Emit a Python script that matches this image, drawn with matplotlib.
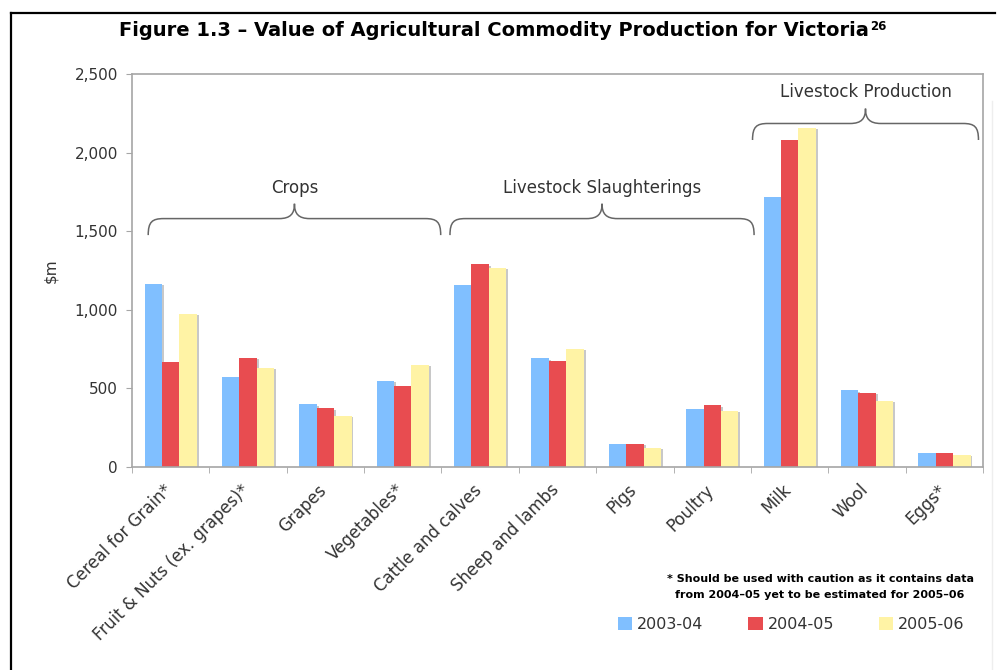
import numpy as np
import matplotlib.pyplot as plt
from matplotlib.path import Path
from matplotlib.patches import PathPatch
from matplotlib.lines import Line2D

plt.rcParams['font.family'] = ['DejaVu Sans']

categories = ['Cereal for Grain*', 'Fruit & Nuts (ex. grapes)*', 'Grapes',
              'Vegetables*', 'Cattle and calves', 'Sheep and lambs', 'Pigs',
              'Poultry', 'Milk', 'Wool', 'Eggs*']
years = ['2003-04', '2004-05', '2005-06']
v2003 = [1164, 574, 399, 549, 1156, 691, 146, 369, 1717, 488, 87]
v2004 = [666, 695, 373, 515, 1289, 674, 146, 392, 2078, 471, 87]
v2005 = [973, 632, 324, 649, 1268, 752, 121, 356, 2156, 422, 76]

# groups: (label, first x, last x, base level, text level)
groups = [('Crops', -0.29, 3.49, 1475, 1775),
          ('Livestock Slaughterings', 3.61, 7.54, 1475, 1775),
          ('Livestock Production', 7.52, 10.44, 2080, 2385)]

colors = ['#80bfff', '#e84c50', '#fff3a5']
grey = '#a6a6a6'
txt = '#333333'

fig = plt.figure(figsize=(9.99, 6.70), dpi=100)
ax = fig.add_axes([0.1321, 0.303, 0.852, 0.5866])

x = np.arange(len(categories))
w = 0.225
for i, vals in enumerate([v2003, v2004, v2005]):
    pos = x + (i - 1) * w
    # thin grey shadow on the right of each bar
    ax.bar(pos + 0.025, np.array(vals) - 8, width=w, color='#c8c8c8', zorder=1)
    ax.bar(pos, vals, width=w, color=colors[i], zorder=2, label=years[i])

ax.set_xlim(-0.5, len(categories) - 0.5)
ax.set_ylim(0, 2500)
ax.set_yticks(range(0, 2501, 500))
ax.set_yticklabels(['{:,}'.format(v) for v in range(0, 2501, 500)],
                   fontsize=11, color=txt)
ax.set_xticks(x - 0.1)
ax.set_xticklabels(categories, rotation=45, ha='right',
                   rotation_mode='anchor', fontsize=12, color=txt)
ax.tick_params(axis='x', length=0, pad=10)
ax.set_xticks(np.arange(-0.5, len(categories) + 0.5), minor=True)
ax.tick_params(axis='x', which='minor', length=4, color=grey, direction='out')
ax.tick_params(axis='y', length=4, color=grey, direction='out', pad=6)
for s in ax.spines.values():
    s.set_color(grey)
    s.set_linewidth(1.2)
ax.set_ylabel('\\$m', fontsize=11, color=txt, labelpad=12)

# curly braces over the groups
for label, x0, x1, yb, yt in groups:
    xm = (x0 + x1) / 2
    h = 105
    r = 0.2
    verts = [(x0, yb), (x0, yb + h * 0.8), (x0 + 0.05, yb + h), (x0 + r, yb + h),
             (xm - r, yb + h),
             (xm - 0.05, yb + h), (xm, yb + h * 1.3), (xm, yb + h * 1.9),
             (xm, yb + h * 1.3), (xm + 0.05, yb + h), (xm + r, yb + h),
             (x1 - r, yb + h),
             (x1 - 0.05, yb + h), (x1, yb + h * 0.8), (x1, yb)]
    codes = [Path.MOVETO, Path.CURVE4, Path.CURVE4, Path.CURVE4, Path.LINETO,
             Path.CURVE4, Path.CURVE4, Path.CURVE4,
             Path.CURVE4, Path.CURVE4, Path.CURVE4, Path.LINETO,
             Path.CURVE4, Path.CURVE4, Path.CURVE4]
    ax.add_patch(PathPatch(Path(verts, codes), facecolor='none',
                           edgecolor='#666666', lw=1.1, zorder=3))
    ax.text(xm, yt, label, ha='center', va='center', fontsize=12, color=txt)

title = fig.text(0.494, 0.955,
                 'Figure 1.3 \u2013 Value of Agricultural Commodity Production for Victoria',
                 ha='center', va='center', fontsize=14, fontweight='bold')
ax.annotate('26', xy=(1.0, 1.0), xycoords=title, xytext=(1.5, 0.5),
            textcoords='offset points', ha='left', va='top',
            fontsize=8.5, fontweight='bold', annotation_clip=False)

fig.text(0.821, 0.136, '* Should be used with caution as it contains data',
         ha='center', va='center', fontsize=8, fontweight='bold')
fig.text(0.821, 0.112, 'from 2004\u201305 yet to be estimated for 2005\u201306',
         ha='center', va='center', fontsize=8, fontweight='bold')

leg = fig.legend(loc='center', bbox_to_anchor=(0.792, 0.068), ncol=3,
                 frameon=False, fontsize=11.5, handlelength=0.9,
                 handleheight=0.9, columnspacing=2.8, handletextpad=0.3)
for t in leg.get_texts():
    t.set_color(txt)

# outer frame
fig.add_artist(Line2D([0.011, 0.996], [0.981, 0.981], color='black', lw=1.6,
                      transform=fig.transFigure))
fig.add_artist(Line2D([0.011, 0.011], [0.981, 0.0], color='black', lw=1.6,
                      transform=fig.transFigure))
fig.add_artist(Line2D([0.993, 0.993], [0.85, 0.0], color='#eeeeee', lw=1.0,
                      transform=fig.transFigure))

fig.savefig('out.png', dpi=100)
